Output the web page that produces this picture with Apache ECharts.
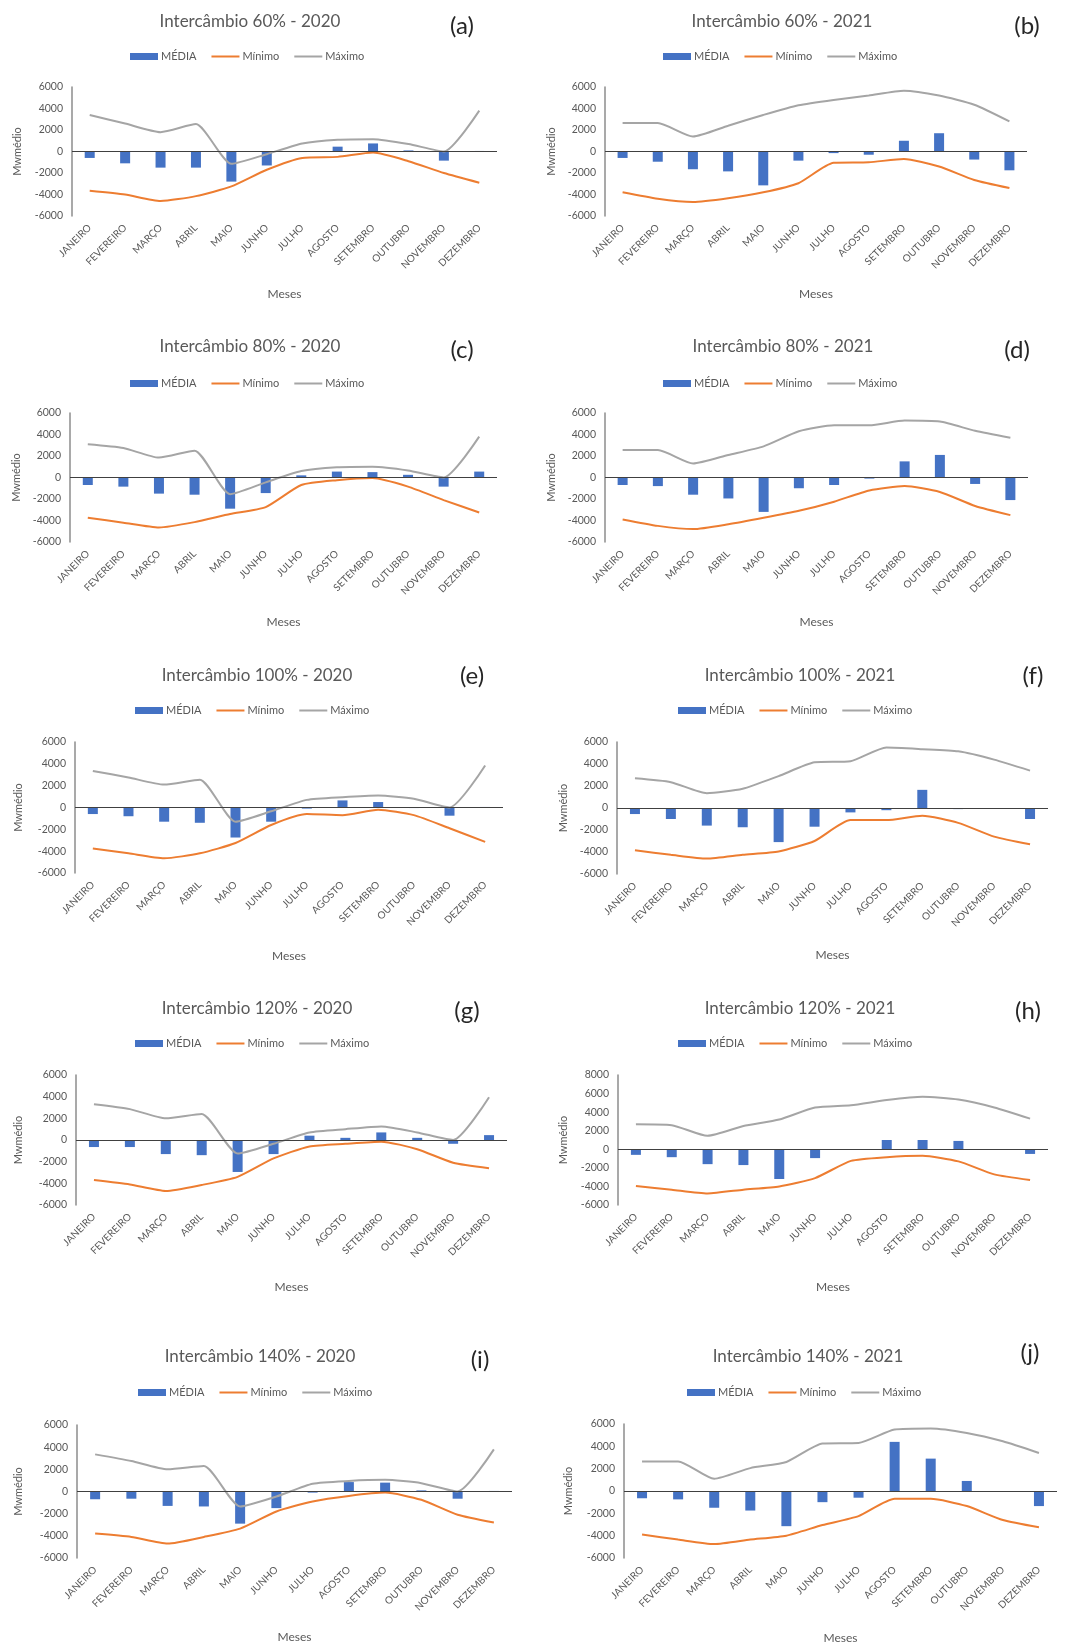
<!DOCTYPE html>
<html>
<head>
<meta charset="utf-8">
<title>Intercâmbio - MÉDIA, Mínimo e Máximo por mês</title>
<script src="https://cdn.jsdelivr.net/npm/echarts@6/dist/echarts.min.js"></script>
<style>
  html, body { margin: 0; padding: 0; background: #ffffff; }
  #page { position: relative; width: 1070px; height: 1645px; }
  .panel { position: absolute; }
</style>
</head>
<body>
<div id="page"></div>
<script>
// Months on the category axis
const months = ['JANEIRO', 'FEVEREIRO', 'MARÇO', 'ABRIL', 'MAIO', 'JUNHO',
  'JULHO', 'AGOSTO', 'SETEMBRO', 'OUTUBRO', 'NOVEMBRO', 'DEZEMBRO'];

// Intercâmbio 60%
const media60_2020  = [-600, -1100, -1500, -1500, -2800, -1300, -50, 450, 750, 100, -850, 50];
const minimo60_2020 = [-3650, -4000, -4600, -4150, -3250, -1700, -600, -500, -100, -900, -2000, -2900];
const maximo60_2020 = [3400, 2600, 1800, 2550, -1150, -250, 750, 1100, 1150, 700, 0, 3800];
const media60_2021  = [-600, -950, -1650, -1850, -3150, -850, -150, -300, 1000, 1700, -750, -1750];
const minimo60_2021 = [-3800, -4400, -4700, -4350, -3800, -2950, -1050, -1000, -700, -1400, -2650, -3400];
const maximo60_2021 = [2650, 2650, 1400, 2400, 3400, 4300, 4800, 5200, 5650, 5200, 4350, 2800];

// Intercâmbio 80%
const media80_2020  = [-700, -850, -1500, -1600, -2900, -1450, 200, 550, 500, 250, -850, 550];
const minimo80_2020 = [-3750, -4200, -4650, -4150, -3400, -2750, -700, -250, -50, -850, -2100, -3250];
const maximo80_2020 = [3100, 2750, 1850, 2500, -1550, -450, 600, 950, 1000, 650, 0, 3800];
const media80_2021  = [-700, -800, -1600, -1950, -3200, -1000, -700, -100, 1500, 2100, -600, -2100];
const minimo80_2021 = [-3900, -4500, -4800, -4350, -3750, -3100, -2250, -1200, -800, -1350, -2650, -3500];
const maximo80_2021 = [2550, 2550, 1300, 2100, 2900, 4300, 4850, 4850, 5300, 5200, 4350, 3700];

// Intercâmbio 100%
const media100_2020  = [-600, -800, -1300, -1400, -2750, -1300, -100, 650, 500, -50, -750, 50];
const minimo100_2020 = [-3750, -4200, -4650, -4200, -3250, -1600, -600, -700, -200, -700, -1900, -3150];
const maximo100_2020 = [3350, 2750, 2100, 2550, -1300, -350, 700, 950, 1100, 800, 0, 3850];
const media100_2021  = [-550, -1000, -1600, -1750, -3100, -1700, -400, -200, 1650, -100, 0, -1000];
const minimo100_2021 = [-3850, -4250, -4600, -4250, -3950, -3000, -1100, -1100, -700, -1350, -2600, -3300];
const maximo100_2021 = [2700, 2350, 1350, 1750, 2900, 4150, 4250, 5500, 5350, 5150, 4400, 3400];

// Intercâmbio 120%
const media120_2020  = [-650, -650, -1300, -1400, -2950, -1300, 400, 200, 700, 200, -350, 450];
const minimo120_2020 = [-3700, -4100, -4700, -4150, -3400, -1700, -600, -350, -150, -850, -2100, -2600];
const maximo120_2020 = [3300, 2850, 2000, 2400, -1250, -350, 700, 1000, 1250, 700, 0, 3950];
const media120_2021  = [-600, -850, -1600, -1700, -3200, -950, 0, 1000, 1000, 900, 0, -500];
const minimo120_2021 = [-3950, -4350, -4750, -4350, -4000, -3100, -1250, -850, -700, -1300, -2700, -3300];
const maximo120_2021 = [2700, 2600, 1450, 2500, 3200, 4500, 4750, 5300, 5650, 5350, 4500, 3300];

// Intercâmbio 140%
const media140_2020  = [-700, -650, -1300, -1350, -2900, -1500, -100, 850, 800, 100, -650, 50];
const minimo140_2020 = [-3800, -4100, -4700, -4100, -3350, -1800, -900, -400, -100, -750, -2100, -2800];
const maximo140_2020 = [3350, 2750, 2000, 2300, -1350, -450, 700, 950, 1050, 750, 0, 3800];
const media140_2021  = [-650, -750, -1500, -1750, -3150, -1000, -600, 4400, 2900, 900, 0, -1350];
const minimo140_2021 = [-3900, -4350, -4750, -4350, -4000, -3050, -2250, -700, -700, -1350, -2600, -3250];
const maximo140_2021 = [2650, 2650, 1100, 2050, 2600, 4250, 4300, 5500, 5600, 5200, 4450, 3400];

// Panel layout: box on the page, plot rectangle, title / tag / legend anchors
const panels = [
  { tag: '(a)', title: 'Intercâmbio 60% - 2020', media: media60_2020, minimo: minimo60_2020, maximo: maximo60_2020,
    box: [0, 0, 535, 322], plot: [72, 87, 497, 216], titleXY: [250, 23], tagXY: [462, 28], legendXY: [130, 58], mesesY: 295, yNameX: 17, yMax: 6000 },
  { tag: '(b)', title: 'Intercâmbio 60% - 2021', media: media60_2021, minimo: minimo60_2021, maximo: maximo60_2021,
    box: [535, 0, 535, 322], plot: [70, 87, 492, 216], titleXY: [247, 23], tagXY: [492, 28], legendXY: [128, 58], mesesY: 295, yNameX: 16, yMax: 6000 },
  { tag: '(c)', title: 'Intercâmbio 80% - 2020', media: media80_2020, minimo: minimo80_2020, maximo: maximo80_2020,
    box: [0, 322, 535, 323], plot: [70, 91, 497, 220], titleXY: [250, 26], tagXY: [462, 30], legendXY: [130, 63], mesesY: 301, yNameX: 17, yMax: 6000 },
  { tag: '(d)', title: 'Intercâmbio 80% - 2021', media: media80_2021, minimo: minimo80_2021, maximo: maximo80_2021,
    box: [535, 322, 535, 323], plot: [70, 91, 493, 220], titleXY: [248, 26], tagXY: [482, 30], legendXY: [128, 63], mesesY: 301, yNameX: 16, yMax: 6000 },
  { tag: '(e)', title: 'Intercâmbio 100% - 2020', media: media100_2020, minimo: minimo100_2020, maximo: maximo100_2020,
    box: [0, 645, 535, 333], plot: [75, 97, 503, 228], titleXY: [257, 32], tagXY: [472, 33], legendXY: [135, 67], mesesY: 312, yNameX: 18, yMax: 6000 },
  { tag: '(f)', title: 'Intercâmbio 100% - 2021', media: media100_2021, minimo: minimo100_2021, maximo: maximo100_2021,
    box: [535, 645, 535, 333], plot: [82, 97, 513, 229], titleXY: [265, 32], tagXY: [498, 33], legendXY: [143, 67], mesesY: 311, yNameX: 28, yMax: 6000 },
  { tag: '(g)', title: 'Intercâmbio 120% - 2020', media: media120_2020, minimo: minimo120_2020, maximo: maximo120_2020,
    box: [0, 978, 535, 332], plot: [76, 97, 507, 227], titleXY: [257, 32], tagXY: [467, 35], legendXY: [135, 67], mesesY: 310, yNameX: 18, yMax: 6000 },
  { tag: '(h)', title: 'Intercâmbio 120% - 2021', media: media120_2021, minimo: minimo120_2021, maximo: maximo120_2021,
    box: [535, 978, 535, 332], plot: [83, 97, 513, 227], titleXY: [265, 32], tagXY: [493, 35], legendXY: [143, 67], mesesY: 310, yNameX: 28, yMax: 8000 },
  { tag: '(i)', title: 'Intercâmbio 140% - 2020', media: media140_2020, minimo: minimo140_2020, maximo: maximo140_2020,
    box: [0, 1310, 535, 335], plot: [77, 115, 512, 248], titleXY: [260, 48], tagXY: [480, 52], legendXY: [138, 84], mesesY: 328, yNameX: 18, yMax: 6000 },
  { tag: '(j)', title: 'Intercâmbio 140% - 2021', media: media140_2021, minimo: minimo140_2021, maximo: maximo140_2021,
    box: [535, 1310, 535, 335], plot: [89, 114, 522, 248], titleXY: [273, 48], tagXY: [495, 45], legendXY: [152, 84], mesesY: 329, yNameX: 33, yMax: 6000 }
];

const FONT = 'Lato, "Open Sans", "Liberation Sans", sans-serif';
const TEXT = '#595959';
const BLUE = '#4472C4';
const ORANGE = '#ED7D31';
const GRAY = '#A5A5A5';
// plain stroke used as legend key for the two line series
const LINE_ICON = 'path://M0,0H28V2H0Z';

const page = document.getElementById('page');

panels.forEach(function (p) {
  const div = document.createElement('div');
  div.className = 'panel';
  div.style.left = p.box[0] + 'px';
  div.style.top = p.box[1] + 'px';
  div.style.width = p.box[2] + 'px';
  div.style.height = p.box[3] + 'px';
  page.appendChild(div);

  const [pl, pt, pr, pb] = p.plot;
  const chart = echarts.init(div, null, { renderer: 'canvas' });

  chart.setOption({
    animation: false,
    textStyle: { fontFamily: FONT },
    title: [
      { text: p.title, left: p.titleXY[0], top: p.titleXY[1] - 10, textAlign: 'center', padding: 0,
        textStyle: { fontFamily: FONT, fontSize: 17, fontWeight: 'normal', color: TEXT } },
      { text: p.tag, left: p.tagXY[0], top: p.tagXY[1] - 14, textAlign: 'center', padding: 0,
        textStyle: { fontFamily: FONT, fontSize: 24, fontWeight: 'normal', color: '#262626' } }
    ],
    legend: {
      left: p.legendXY[0], top: p.legendXY[1] - 7, padding: 0,
      itemWidth: 28, itemHeight: 7, itemGap: 15, symbolKeepAspect: true,
      textStyle: { fontFamily: FONT, fontSize: 11, color: TEXT, padding: [0, 0, 0, -2] },
      data: [
        { name: 'MÉDIA', icon: 'rect' },
        { name: 'Mínimo', icon: LINE_ICON },
        { name: 'Máximo', icon: LINE_ICON }
      ]
    },
    grid: { left: pl, top: pt, width: pr - pl, height: pb - pt, containLabel: false },
    xAxis: {
      type: 'category', data: months, boundaryGap: true,
      name: 'Meses', nameLocation: 'middle', nameGap: p.mesesY - pb - 7,
      nameTextStyle: { fontFamily: FONT, fontSize: 12, color: TEXT },
      axisLine: { show: false, onZero: false },
      axisTick: { show: false },
      axisLabel: { rotate: 45, margin: 10, fontFamily: FONT, fontSize: 10, color: TEXT, interval: 0 },
      splitLine: { show: false }
    },
    yAxis: {
      type: 'value', min: -6000, max: p.yMax, interval: 2000,
      name: 'Mwmédio', nameLocation: 'middle', nameRotate: 90, nameGap: pl - p.yNameX - 6,
      nameTextStyle: { fontFamily: FONT, fontSize: 11, color: TEXT },
      axisLine: { show: true, lineStyle: { color: '#8c8c8c', width: 1.5 } },
      axisTick: { show: false },
      splitLine: { show: false },
      axisLabel: { margin: 9, fontFamily: FONT, fontSize: 10.5, color: TEXT, formatter: function (v) { return String(v); } }
    },
    series: [
      {
        name: 'MÉDIA', type: 'bar', data: p.media, barWidth: 10,
        itemStyle: { color: BLUE },
        z: 2,
        markLine: {
          silent: true, symbol: ['none', 'none'], label: { show: false },
          lineStyle: { color: '#404040', width: 1, type: 'solid' },
          emphasis: { disabled: true },
          data: [{ yAxis: 0 }]
        }
      },
      {
        name: 'Mínimo', type: 'line', data: p.minimo, smooth: 0.2,
        symbol: 'none', showSymbol: false,
        lineStyle: { color: ORANGE, width: 2 }, itemStyle: { color: ORANGE }, z: 3
      },
      {
        name: 'Máximo', type: 'line', data: p.maximo, smooth: 0.2,
        symbol: 'none', showSymbol: false,
        lineStyle: { color: GRAY, width: 2 }, itemStyle: { color: GRAY }, z: 3
      }
    ]
  });
});
</script>
</body>
</html>
